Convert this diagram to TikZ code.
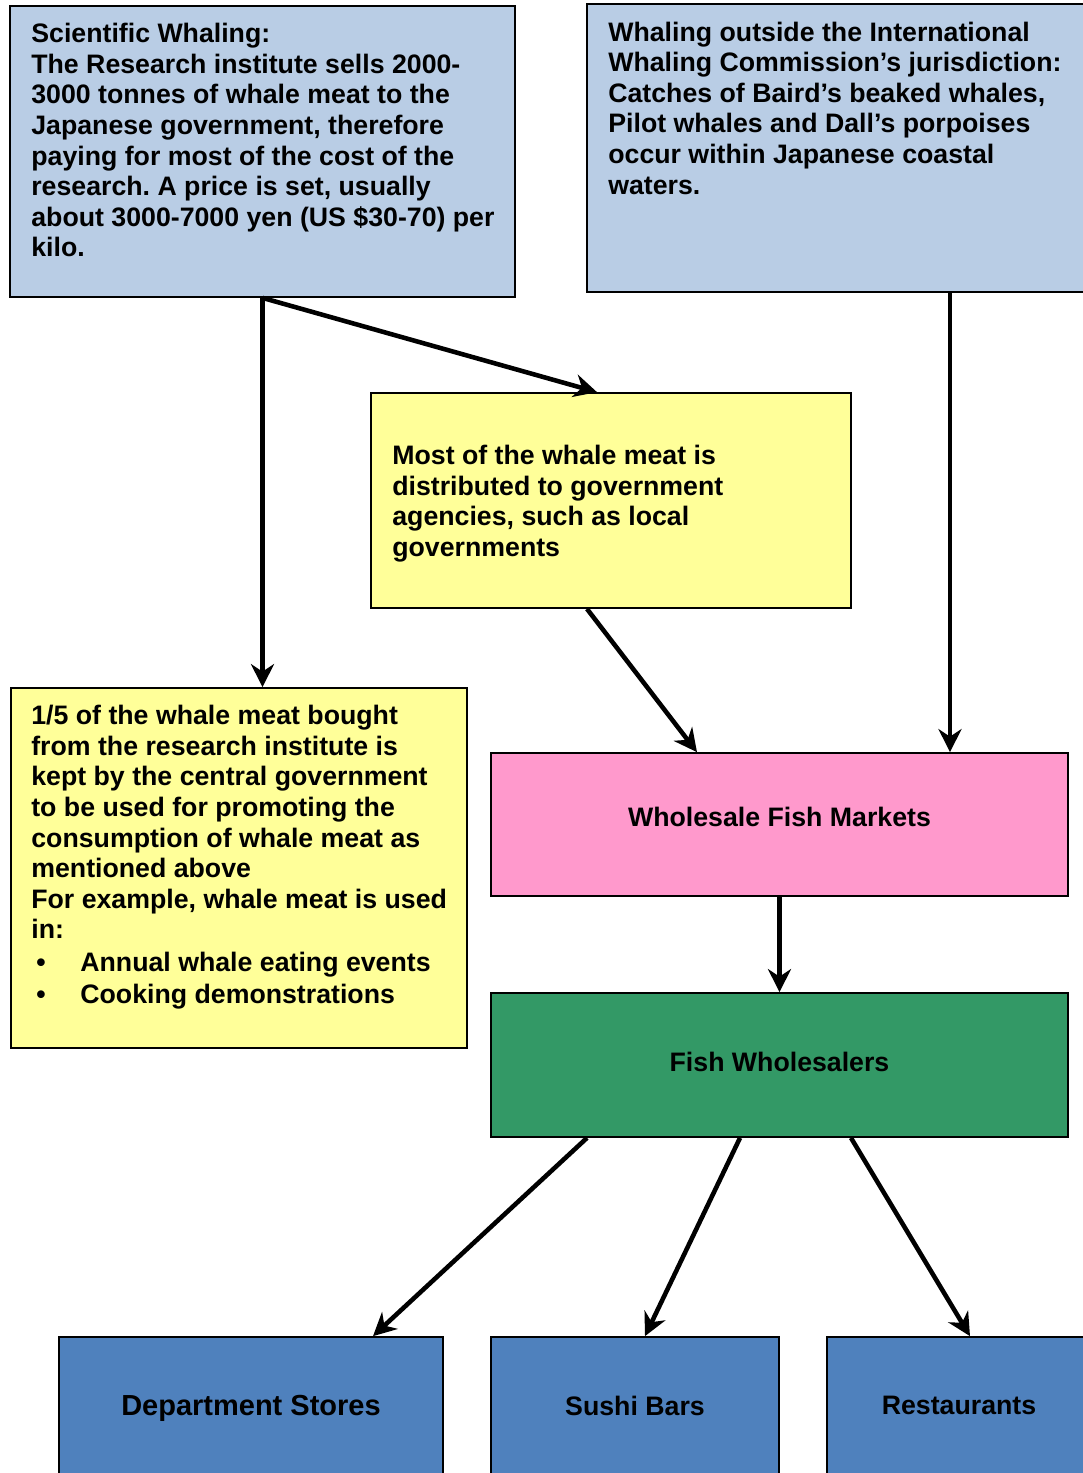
\documentclass[tikz,border=0pt]{standalone}
\usepackage{fontspec}
\setmainfont{Liberation Sans}
\usetikzlibrary{arrows.meta}
\definecolor{paleblue}{HTML}{B9CDE5}
\definecolor{paleyellow}{HTML}{FFFF99}
\definecolor{marketpink}{HTML}{FF99CC}
\definecolor{seagreen}{HTML}{339966}
\definecolor{shopblue}{HTML}{4F81BD}
\frenchspacing

\begin{document}
\begin{tikzpicture}[every text node part/.style={align=left},
	box/.style={draw=black,line width=1pt,inner sep=0pt,font=\fontsize{15.2}{17.4}\selectfont\bfseries},
	txt/.style={anchor=north west,inner sep=0pt,font=\fontsize{15.2}{17.4}\selectfont\bfseries},
	flow/.style={line width=2.6pt,-{Stealth[length=0.46cm,width=0.46cm]}}]
	\useasboundingbox (0,0) rectangle (21.66,-29.46);
	\clip (0,0) rectangle (21.66,-29.46);
	\node[box,fill=paleblue,minimum width=10.1cm,minimum height=5.82cm] (research) at (5.25,-3.03) {};
	\node[txt] (researchtxt) at (0.62,-0.46) {Scientific Whaling:\\The Research institute sells 2000-\\3000 tonnes of whale meat to the\\Japanese government, therefore\\paying for most of the cost of the\\research. A price is set, usually\\about 3000-7000 yen (US \$30-70) per\\kilo.};
	\node[box,fill=paleblue,minimum width=10.26cm,minimum height=5.76cm] (outside) at (16.87,-2.96) {};
	\node[txt] (outsidetxt) at (12.16,-0.43) {Whaling outside the International\\Whaling Commission’s jurisdiction:\\Catches of Baird’s beaked whales,\\Pilot whales and Dall’s porpoises\\occur within Japanese coastal\\waters.};
	\node[box,fill=paleyellow,minimum width=9.6cm,minimum height=4.3cm] (dist) at (12.22,-10.01) {};
	\node[txt] (disttxt) at (7.84,-8.9) {Most of the whale meat is\\distributed to government\\agencies, such as local\\governments};
	\node[box,fill=paleyellow,minimum width=9.12cm,minimum height=7.2cm] (kept) at (4.78,-17.36) {};
	\node[txt] (kepttxt) at (0.62,-14.1) {1/5 of the whale meat bought\\from the research institute is\\kept by the central government\\to be used for promoting the\\consumption of whale meat as\\mentioned above\\For example, whale meat is used\\in:\\[1pt]
		\makebox[0.98cm][l]{\hspace{0.1cm}•}Annual whale eating events\\[1pt]
		\makebox[0.98cm][l]{\hspace{0.1cm}•}Cooking demonstrations};
	\node[box,fill=marketpink,minimum width=11.54cm,minimum height=2.86cm,text depth=0.32cm] (market) at (15.59,-16.49) {Wholesale Fish Markets};
	\node[box,fill=seagreen,minimum width=11.54cm,minimum height=2.88cm,text depth=0.12cm] (wholesalers) at (15.59,-21.3) {Fish Wholesalers};
	\node[box,fill=shopblue,minimum width=7.68cm,minimum height=2.86cm,font=\fontsize{16.5}{19}\selectfont\bfseries] (dept) at (5.02,-28.17) {Department Stores};
	\node[box,fill=shopblue,minimum width=5.76cm,minimum height=2.86cm,text depth=0.12cm] (sushi) at (12.7,-28.17) {Sushi Bars};
	\node[box,fill=shopblue,minimum width=5.28cm,minimum height=2.86cm,text depth=0.12cm] (rest) at (19.18,-28.17) {Restaurants};
	\draw[flow] (research.south) -- (research.south |- kept.north);
	\draw[flow] (research.south) -- ([xshift=-0.28cm]dist.north);
	\draw[flow] ([xshift=-0.48cm]dist.south) -- ([xshift=-1.65cm]market.north);
	\draw[flow] ([xshift=2.13cm]outside.south) -- ([xshift=2.13cm]outside.south |- market.north);
	\draw[flow] (market.south) -- (wholesalers.north);
	\draw[flow] ([xshift=-3.85cm]wholesalers.south) -- ([xshift=2.44cm]dept.north);
	\draw[flow] ([xshift=-0.79cm]wholesalers.south) -- ([xshift=0.2cm]sushi.north);
	\draw[flow] ([xshift=1.43cm]wholesalers.south) -- ([xshift=0.22cm]rest.north);
\end{tikzpicture}
\end{document}
